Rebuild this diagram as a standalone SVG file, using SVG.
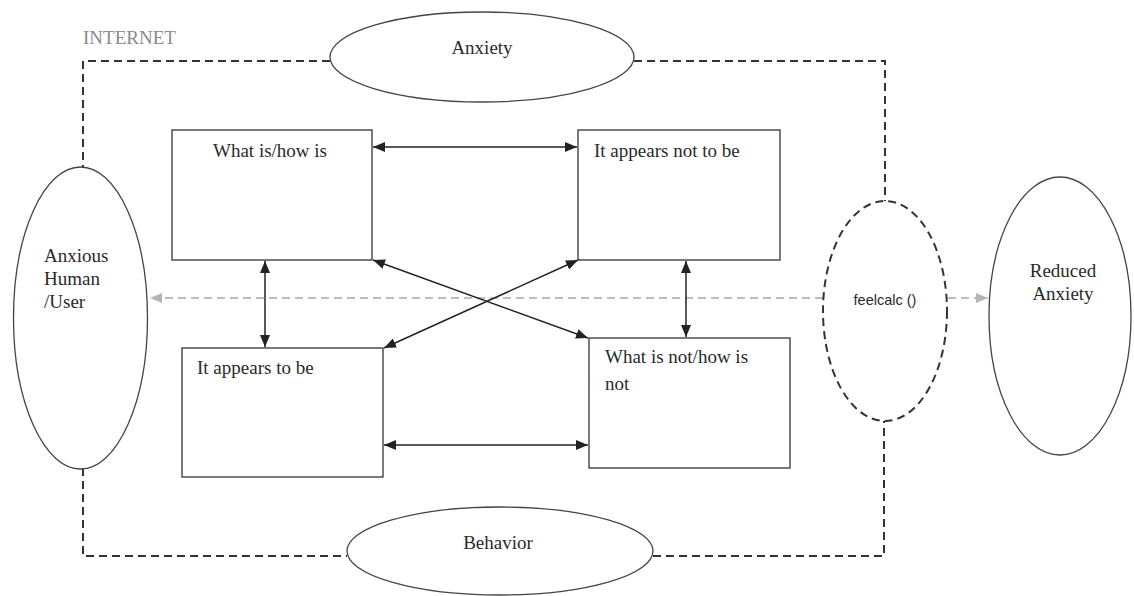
<svg xmlns="http://www.w3.org/2000/svg" width="1134" height="596" viewBox="0 0 1134 596">
<style>
  .t { font-family: "Liberation Serif", "Times New Roman", serif; font-size: 19px; fill: #2a2a2a; }
  .s { font-family: "Liberation Sans", Arial, sans-serif; font-size: 14.5px; fill: #2a2a2a; }
  .box { fill: #fff; stroke: #333; stroke-width: 1.3; }
  .ell { fill: #fff; stroke: #444; stroke-width: 1.3; }
  .dash { fill: none; stroke: #333; stroke-width: 2; stroke-dasharray: 8 5; }
  .grey { fill: none; stroke: #bdbdbd; stroke-width: 2; stroke-dasharray: 8 5; }
  .arr { fill: none; stroke: #222; stroke-width: 1.5; }
</style>
<defs>
  <marker id="ah" viewBox="0 0 12 10" refX="12" refY="5" markerWidth="12" markerHeight="10" markerUnits="userSpaceOnUse" orient="auto-start-reverse">
    <path d="M0,0 L12,5 L0,10 Z" fill="#222"/>
  </marker>
  <marker id="gh" viewBox="0 0 12 10" refX="12" refY="5" markerWidth="12" markerHeight="10" markerUnits="userSpaceOnUse" orient="auto-start-reverse">
    <path d="M0,0 L12,5 L0,10 Z" fill="#b5b5b5"/>
  </marker>
</defs>
<rect width="1134" height="596" fill="#fff"/>
<text x="83" y="44" class="t" style="fill:#8a8a8a">INTERNET</text>

<g id="connectors">
  <path class="dash" d="M330,61 H83 V167"/>
  <path class="dash" d="M634,61 H885 V201"/>
  <path class="dash" d="M83,468 V556 H347"/>
  <path class="dash" d="M653,556 H884 V421"/>
  <line class="grey" x1="823" y1="298" x2="150" y2="298" marker-end="url(#gh)"/>
  <line class="grey" x1="948" y1="298" x2="988" y2="298" marker-end="url(#gh)"/>
  <line class="arr" x1="373" y1="147" x2="577" y2="147" marker-start="url(#ah)" marker-end="url(#ah)"/>
  <line class="arr" x1="265" y1="261" x2="265" y2="347" marker-start="url(#ah)" marker-end="url(#ah)"/>
  <line class="arr" x1="686" y1="261" x2="686" y2="337" marker-start="url(#ah)" marker-end="url(#ah)"/>
  <line class="arr" x1="384" y1="445" x2="588" y2="445" marker-start="url(#ah)" marker-end="url(#ah)"/>
  <line class="arr" x1="373" y1="260" x2="588" y2="338" marker-start="url(#ah)" marker-end="url(#ah)"/>
  <line class="arr" x1="578" y1="260" x2="384" y2="348" marker-start="url(#ah)" marker-end="url(#ah)"/>
</g>

<g id="anxiety">
  <ellipse class="ell" cx="482" cy="57" rx="152" ry="45"/>
  <text x="482" y="54" class="t" text-anchor="middle">Anxiety</text>
</g>
<g id="behavior">
  <ellipse class="ell" cx="500" cy="551" rx="153" ry="44"/>
  <text x="498" y="549" class="t" text-anchor="middle">Behavior</text>
</g>
<g id="anxious-human">
  <ellipse class="ell" cx="80.5" cy="318" rx="67" ry="151"/>
  <text class="t"><tspan x="44" y="262">Anxious</tspan><tspan x="44" y="285">Human</tspan><tspan x="44" y="308">/User</tspan></text>
</g>
<g id="reduced-anxiety">
  <ellipse class="ell" cx="1060" cy="316" rx="71" ry="139"/>
  <text class="t" text-anchor="middle"><tspan x="1063" y="277">Reduced</tspan><tspan x="1063" y="300">Anxiety</tspan></text>
</g>
<g id="feelcalc">
  <ellipse class="dash" cx="885" cy="311" rx="62" ry="110"/>
  <text x="885" y="305" class="s" text-anchor="middle">feelcalc ()</text>
</g>
<g id="what-is">
  <rect class="box" x="172" y="130" width="200" height="130"/>
  <text x="213" y="157" class="t">What is/how is</text>
</g>
<g id="appears-not">
  <rect class="box" x="578" y="130" width="202" height="130"/>
  <text x="594" y="157" class="t">It appears not to be</text>
</g>
<g id="appears">
  <rect class="box" x="182" y="348" width="201" height="129"/>
  <text x="197" y="374" class="t">It appears to be</text>
</g>
<g id="what-is-not">
  <rect class="box" x="589" y="338" width="201" height="130"/>
  <text class="t"><tspan x="605" y="363">What is not/how is</tspan><tspan x="605" y="390">not</tspan></text>
</g>
</svg>
